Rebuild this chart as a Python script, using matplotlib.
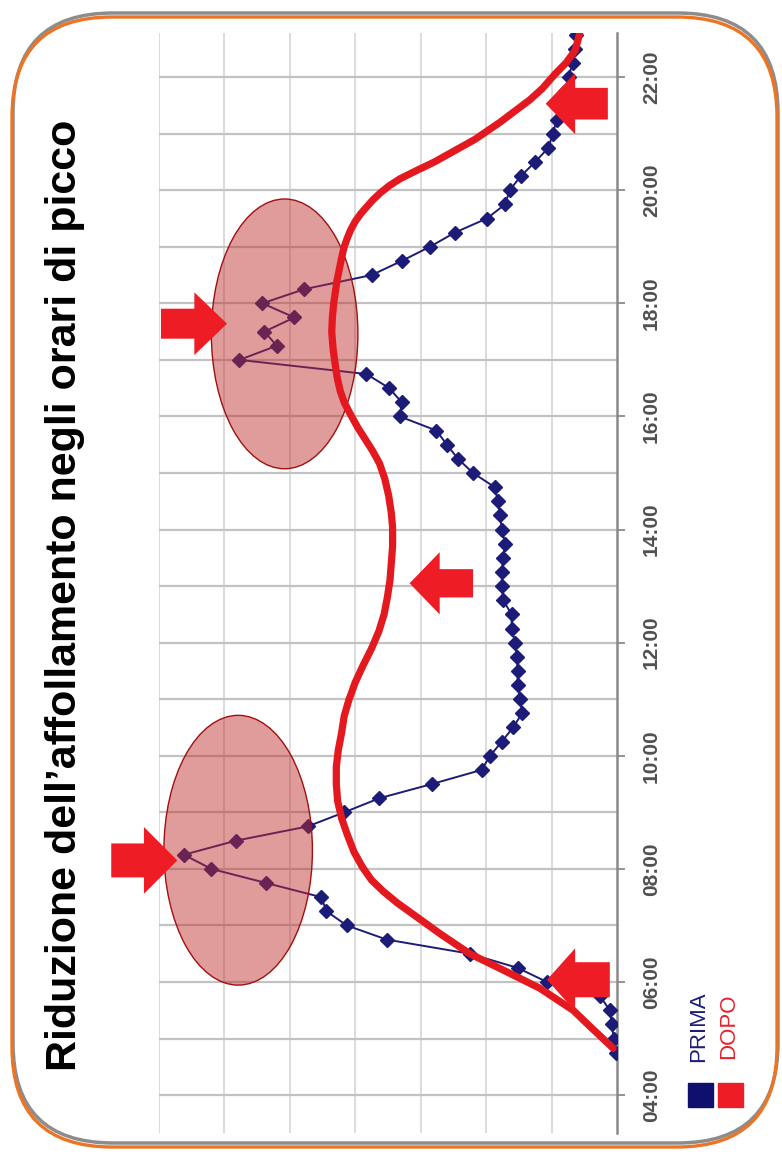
import matplotlib
matplotlib.use("Agg")
import matplotlib.pyplot as plt
from matplotlib.patches import Ellipse, FancyArrow, FancyBboxPatch, Rectangle

plt.rcParams['font.family'] = ['Liberation Sans', 'DejaVu Sans']

# PRIMA: rilevazioni ogni 15 minuti (ora decimale, affollamento)
prima_ore = [4.75, 5.0, 5.25, 5.5, 5.75, 6.0, 6.25, 6.5, 6.75, 7.0, 7.25, 7.5,
             7.75, 8.0, 8.25, 8.5, 8.75, 9.0, 9.25, 9.5, 9.75, 10.0, 10.25, 10.5,
             10.75, 11.0, 11.25, 11.5, 11.75, 12.0, 12.25, 12.5, 12.75, 13.0, 13.25, 13.5,
             13.75, 14.0, 14.25, 14.5, 14.75, 15.0, 15.25, 15.5, 15.75, 16.0, 16.25, 16.5,
             16.75, 17.0, 17.25, 17.5, 17.75, 18.0, 18.25, 18.5, 18.75, 19.0, 19.25, 19.5,
             19.75, 20.0, 20.25, 20.5, 20.75, 21.0, 21.25, 21.5, 21.75, 22.0, 22.25, 22.5,
             22.75]
prima_val = [0.02, 0.05, 0.08, 0.11, 0.26, 1.07, 1.52, 2.25, 3.52, 4.13, 4.44, 4.52,
             5.36, 6.20, 6.62, 5.82, 4.73, 4.17, 3.63, 2.83, 2.07, 1.94, 1.76, 1.59,
             1.45, 1.48, 1.52, 1.52, 1.53, 1.56, 1.61, 1.61, 1.74, 1.76, 1.76, 1.74,
             1.71, 1.76, 1.79, 1.82, 1.87, 2.20, 2.43, 2.60, 2.76, 3.32, 3.29, 3.48,
             3.83, 5.77, 5.20, 5.39, 4.93, 5.42, 4.78, 3.75, 3.29, 2.86, 2.48, 1.99,
             1.71, 1.64, 1.47, 1.25, 1.05, 0.98, 0.92, 0.86, 0.80, 0.74, 0.68, 0.64,
             0.62]

# DOPO: curva attesa (punti letti lungo la curva)
dopo_ore = [4.83, 5.2, 5.5, 5.89, 6.2, 6.5, 6.85, 7.15, 7.4, 7.6, 7.8, 8.03,
            8.3, 8.63, 8.9, 9.2, 9.5, 9.8, 10.1, 10.4, 10.7, 10.98, 11.3, 11.6,
            11.9, 12.2, 12.5, 12.8, 13.1, 13.4, 13.7, 14.04, 14.3, 14.6, 14.9, 15.17,
            15.4, 15.6, 15.8, 16.05, 16.25, 16.45, 16.65, 16.86, 17.2, 17.5, 17.75, 18.0,
            18.4, 18.8, 19.0, 19.16, 19.3, 19.45, 19.58, 19.7, 19.83, 19.95, 20.08, 20.2,
            20.35, 20.5, 20.7, 20.9, 21.05, 21.2, 21.4, 21.6, 21.8, 22.05, 22.25, 22.47,
            22.77]
dopo_val = [0.06, 0.40, 0.67, 1.18, 1.72, 2.25, 2.70, 3.06, 3.36, 3.57, 3.75, 3.89,
            4.02, 4.13, 4.21, 4.27, 4.29, 4.29, 4.26, 4.21, 4.17, 4.10, 4.00, 3.88,
            3.75, 3.64, 3.56, 3.51, 3.47, 3.45, 3.43, 3.43, 3.45, 3.49, 3.55, 3.63,
            3.74, 3.85, 3.96, 4.08, 4.17, 4.23, 4.27, 4.30, 4.34, 4.36, 4.35, 4.33,
            4.28, 4.21, 4.17, 4.12, 4.07, 4.00, 3.92, 3.83, 3.73, 3.62, 3.48, 3.32,
            3.06, 2.79, 2.48, 2.17, 1.98, 1.79, 1.56, 1.33, 1.14, 0.95, 0.78, 0.64,
            0.57]

tick_ore = [4, 6, 8, 10, 12, 14, 16, 18, 20, 22]
tick_labels = ['04:00', '06:00', '08:00', '10:00', '12:00', '14:00', '16:00',
               '18:00', '20:00', '22:00']
minor_ore = [5, 7, 9, 11, 13, 15, 17, 19, 21]
value_grid = [1, 2, 3, 4, 5, 6, 7]

title = 'Riduzione dell\u2019affollamento negli orari di picco'

navy = '#1c1c78'
red = '#e4191f'
arrow_red = '#ee1c25'

fig = plt.figure(figsize=(7.82, 11.57), dpi=100)

# overlay in pixel coordinates for frame, title and legend
bg = fig.add_axes([0, 0, 1, 1], zorder=0)
bg.set_xlim(0, 782)
bg.set_ylim(1157, 0)
bg.axis('off')
bg.add_patch(FancyBboxPatch((13, 13), 765, 1130, boxstyle='round,pad=0,rounding_size=100',
                            fill=False, ec='#8c8c8c', lw=2.5))
bg.add_patch(FancyBboxPatch((12, 17), 765, 1130, boxstyle='round,pad=0,rounding_size=100',
                            fill=False, ec='#ec7424', lw=2.4))
bg.text(65, 595, title, rotation=90, ha='center', va='center', fontsize=31,
        fontweight='bold', color='black')
bg.add_patch(Rectangle((688, 1083), 25, 24, color='#0f0f6e'))
bg.add_patch(Rectangle((718, 1083), 25, 24, color='#ee1c25'))
bg.text(699, 1062, 'PRIMA', rotation=90, ha='center', va='bottom', fontsize=16, color=navy)
bg.text(729, 1059, 'DOPO', rotation=90, ha='center', va='bottom', fontsize=16, color='#e8202a')

ax = fig.add_axes([159 / 782, 1 - 1133 / 1157, (617 - 159) / 782, (1133 - 33) / 1157], zorder=1)
ax.set_facecolor('none')
ax.set_xlim(7.0, 0.0)
ax.set_ylim(3.33, 22.78)

ax.plot(prima_val, prima_ore, color=navy, lw=1.4, marker='D', ms=7, zorder=3)

# cerchi sui picchi
ax.add_patch(Ellipse((5.79, 8.33), 2.27, 4.77, fc=(0.75, 0.18, 0.18, 0.48),
                     ec='#a01010', lw=1, zorder=4))
ax.add_patch(Ellipse((5.08, 17.46), 2.24, 4.77, fc=(0.75, 0.18, 0.18, 0.48),
                     ec='#a01010', lw=1, zorder=4))

ax.plot(dopo_val, dopo_ore, color=red, lw=5.2, solid_capstyle='round',
        solid_joinstyle='round', zorder=5)

# frecce (coda, ora, punta, lunghezza testa, larghezza testa, larghezza corpo)
arrows = [
    (0.11, 6.04, 1.07, 0.43, 1.11, 0.62),
    (0.14, 21.53, 1.09, 0.45, 1.08, 0.56),
    (2.20, 13.05, 3.17, 0.46, 1.10, 0.50),
    (7.73, 8.15, 6.72, 0.51, 1.18, 0.60),
    (6.97, 17.64, 5.96, 0.50, 1.11, 0.53),
]
for tail, hour, tip, hl, hw, w in arrows:
    ax.add_patch(FancyArrow(tail, hour, tip - tail, 0, width=w, head_width=hw,
                            head_length=hl, length_includes_head=True,
                            color=arrow_red, lw=0, zorder=6, clip_on=False))

ax.yaxis.tick_right()
ax.set_yticks(tick_ore)
ax.set_yticklabels(tick_labels, rotation=90, va='center', fontsize=15,
                   fontweight='bold', color='#505050')
ax.set_yticks(minor_ore, minor=True)
ax.tick_params(axis='y', which='major', length=6, width=1.3, color='#8a8a8a', pad=12)
ax.tick_params(axis='y', which='minor', length=0)
ax.set_xticks(value_grid)
ax.tick_params(axis='x', length=0, labelbottom=False)
ax.grid(axis='y', which='both', color='#c2c2c2', lw=1.6)
ax.grid(axis='x', color='#d6d6d6', lw=1.2)
ax.set_axisbelow(True)
for side in ['top', 'left', 'bottom']:
    ax.spines[side].set_visible(False)
ax.spines['right'].set_color('#8a8a8a')
ax.spines['right'].set_linewidth(1.8)

fig.savefig('out.png', dpi=100, facecolor='white')
